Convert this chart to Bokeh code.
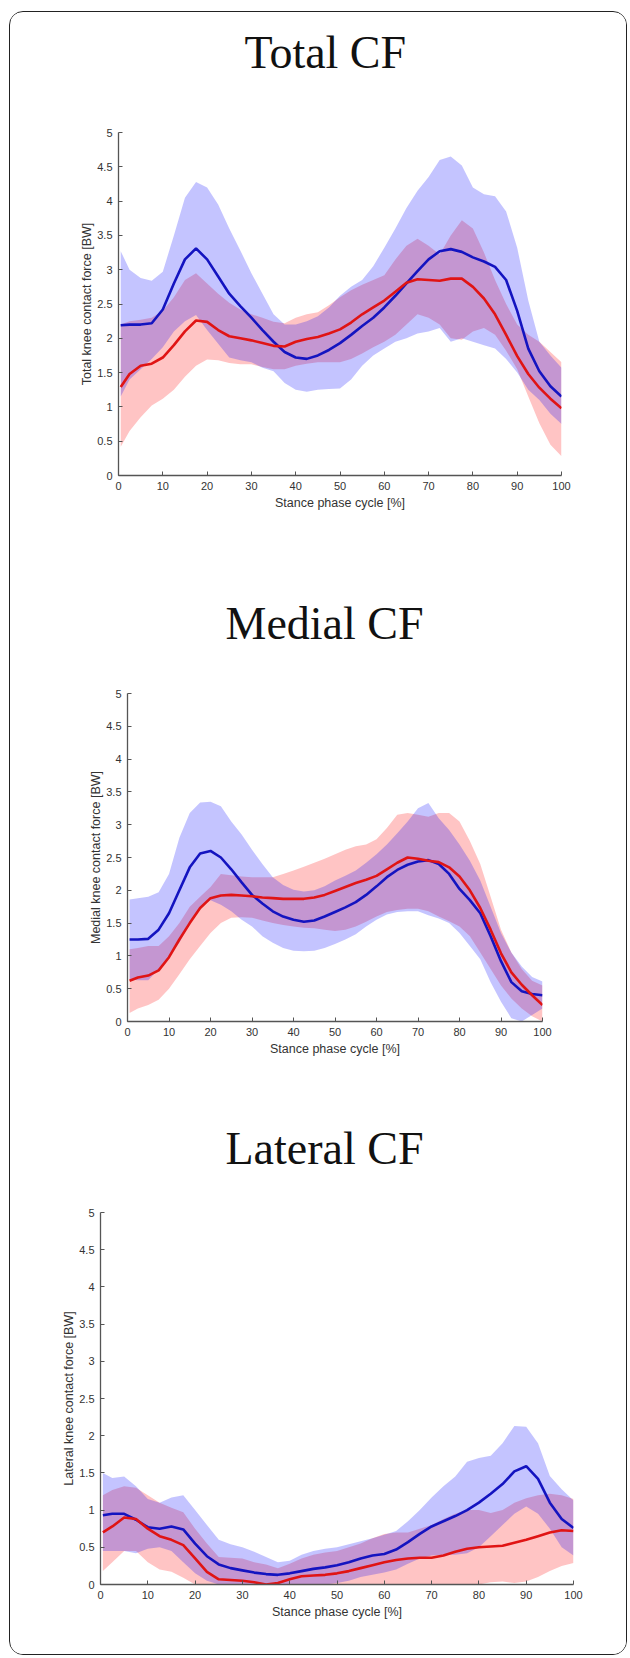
from bokeh.plotting import figure
from bokeh.layouts import column
from bokeh.models import Range1d, FixedTicker, CustomJSTickFormatter, Title
from bokeh.embed import file_html
from bokeh.resources import INLINE

# ---------------- data ----------------
x_pct = [0.5, 2.5, 5, 7.5, 10, 12.5, 15, 17.5, 20, 22.5, 25, 27.5, 30, 32.5, 35,
         37.5, 40, 42.5, 45, 47.5, 50, 52.5, 55, 57.5, 60, 62.5, 65, 67.5, 70,
         72.5, 75, 77.5, 80, 82.5, 85, 87.5, 90, 92.5, 95, 97.5, 100]

x_ticks = [0, 10, 20, 30, 40, 50, 60, 70, 80, 90, 100]
y_ticks = [0, 0.5, 1, 1.5, 2, 2.5, 3, 3.5, 4, 4.5, 5]

titles = ["Total CF", "Medial CF", "Lateral CF"]
y_labels = ["Total knee contact force [BW]",
            "Medial knee contact force [BW]",
            "Lateral knee contact force [BW]"]
x_label = "Stance phase cycle [%]"

# Total CF
total_blue_mean = [2.19, 2.2, 2.2, 2.22, 2.42, 2.8, 3.15, 3.31, 3.15, 2.9, 2.65, 2.47, 2.3, 2.12, 1.95,
                   1.8, 1.72, 1.7, 1.75, 1.83, 1.93, 2.05, 2.18, 2.3, 2.45, 2.62, 2.8, 2.98, 3.15,
                   3.27, 3.3, 3.26, 3.18, 3.12, 3.04, 2.85, 2.4, 1.85, 1.52, 1.3, 1.15]
total_blue_up = [3.27, 3.0, 2.88, 2.84, 2.97, 3.5, 4.05, 4.28, 4.2, 3.95, 3.6, 3.28, 2.95, 2.65, 2.35,
                 2.2, 2.2, 2.25, 2.32, 2.45, 2.62, 2.75, 2.85, 3.05, 3.32, 3.6, 3.9, 4.15, 4.35,
                 4.6, 4.65, 4.52, 4.2, 4.1, 4.07, 3.85, 3.32, 2.55, 1.95, 1.75, 1.57]
total_blue_lo = [1.15, 1.4, 1.55, 1.7, 1.87, 2.1, 2.25, 2.34, 2.12, 1.92, 1.72, 1.68, 1.65, 1.57, 1.52,
                 1.35, 1.25, 1.22, 1.25, 1.26, 1.27, 1.4, 1.6, 1.75, 1.85, 1.95, 2.0, 2.07, 2.1,
                 2.15, 1.95, 2.0, 1.95, 1.9, 1.85, 1.7, 1.5, 1.25, 1.1, 0.9, 0.75]
total_red_mean = [1.29, 1.48, 1.6, 1.63, 1.72, 1.9, 2.1, 2.26, 2.24, 2.12, 2.03, 2.0, 1.97, 1.93, 1.89,
                  1.88, 1.95, 1.99, 2.02, 2.07, 2.13, 2.23, 2.35, 2.45, 2.55, 2.68, 2.81, 2.86, 2.85,
                  2.84, 2.87, 2.87, 2.75, 2.58, 2.35, 2.05, 1.74, 1.48, 1.28, 1.12, 0.98]
total_red_up = [2.2, 2.25, 2.27, 2.3, 2.4, 2.6, 2.85, 2.95, 2.8, 2.65, 2.52, 2.42, 2.35, 2.3, 2.24,
                2.22, 2.3, 2.35, 2.38, 2.48, 2.6, 2.7, 2.78, 2.85, 2.92, 3.15, 3.35, 3.45, 3.35,
                3.22, 3.5, 3.72, 3.6, 3.25, 2.85, 2.5, 2.2, 2.05, 1.95, 1.8, 1.65]
total_red_lo = [0.42, 0.65, 0.85, 1.02, 1.12, 1.25, 1.44, 1.6, 1.69, 1.68, 1.64, 1.62, 1.62, 1.58, 1.55,
                1.55, 1.6, 1.63, 1.65, 1.65, 1.65, 1.7, 1.78, 1.87, 1.95, 2.05, 2.2, 2.35, 2.3,
                2.2, 2.0, 1.98, 2.1, 2.15, 2.05, 1.82, 1.55, 1.15, 0.76, 0.45, 0.28]

# Medial CF
medial_blue_mean = [1.25, 1.25, 1.26, 1.4, 1.65, 2.0, 2.35, 2.56, 2.6, 2.5, 2.32, 2.12, 1.93, 1.8, 1.68,
                    1.6, 1.55, 1.52, 1.54, 1.6, 1.67, 1.74, 1.82, 1.93, 2.06, 2.2, 2.31, 2.39, 2.44,
                    2.46, 2.4, 2.25, 2.02, 1.85, 1.65, 1.3, 0.92, 0.6, 0.46, 0.42, 0.4]
medial_blue_up = [1.86, 1.88, 1.9, 1.97, 2.25, 2.8, 3.18, 3.34, 3.35, 3.28, 3.05, 2.85, 2.62, 2.4, 2.2,
                  2.08, 2.01, 1.98, 2.0, 2.06, 2.15, 2.22, 2.3, 2.42, 2.55, 2.7, 2.87, 3.05, 3.25,
                  3.33, 3.1, 2.92, 2.7, 2.45, 2.15, 1.75, 1.35, 1.05, 0.84, 0.68, 0.61]
medial_blue_lo = [0.64, 0.63, 0.63, 0.8, 1.0, 1.2, 1.5, 1.75, 1.85, 1.78, 1.68, 1.55, 1.45, 1.3, 1.2,
                  1.12, 1.08, 1.07, 1.08, 1.12, 1.18, 1.25, 1.33, 1.45, 1.55, 1.63, 1.67, 1.68, 1.68,
                  1.62, 1.57, 1.5, 1.35, 1.15, 0.95, 0.6, 0.3, 0.05, 0.0, 0.1, 0.2]
medial_red_mean = [0.62, 0.67, 0.7, 0.78, 0.98, 1.25, 1.5, 1.73, 1.88, 1.92, 1.93, 1.92, 1.91, 1.89, 1.88,
                   1.87, 1.87, 1.87, 1.89, 1.93, 1.99, 2.05, 2.11, 2.16, 2.22, 2.32, 2.42, 2.5, 2.48,
                   2.45, 2.43, 2.35, 2.21, 2.0, 1.73, 1.4, 1.04, 0.75, 0.56, 0.4, 0.25]
medial_red_up = [1.1, 1.12, 1.15, 1.15, 1.3, 1.5, 1.75, 1.9, 2.05, 2.25, 2.23, 2.21, 2.2, 2.2, 2.2,
                 2.25, 2.3, 2.36, 2.42, 2.48, 2.55, 2.62, 2.67, 2.7, 2.78, 2.95, 3.15, 3.18, 3.15,
                 3.12, 3.18, 3.18, 3.05, 2.75, 2.4, 1.9, 1.4, 1.05, 0.8, 0.62, 0.55]
medial_red_lo = [0.13, 0.2, 0.25, 0.33, 0.5, 0.72, 0.95, 1.15, 1.35, 1.5, 1.58, 1.59, 1.58, 1.54, 1.5,
                 1.47, 1.45, 1.43, 1.42, 1.4, 1.38, 1.4, 1.45, 1.52, 1.6, 1.67, 1.7, 1.72, 1.72,
                 1.68, 1.6, 1.53, 1.45, 1.3, 1.05, 0.8, 0.55, 0.35, 0.2, 0.08, 0.0]

# Lateral CF
lateral_blue_mean = [0.93, 0.95, 0.95, 0.87, 0.77, 0.75, 0.78, 0.74, 0.55, 0.38, 0.27, 0.22, 0.19, 0.16, 0.14,
                     0.13, 0.15, 0.18, 0.21, 0.23, 0.26, 0.3, 0.35, 0.39, 0.41, 0.47, 0.57, 0.68, 0.78,
                     0.85, 0.92, 1.0, 1.1, 1.22, 1.35, 1.52, 1.59, 1.42, 1.1, 0.88, 0.76]
lateral_blue_up = [1.5, 1.43, 1.45, 1.32, 1.15, 1.1, 1.17, 1.2, 1.0, 0.8, 0.6, 0.54, 0.5, 0.44, 0.37,
                   0.3, 0.32, 0.4, 0.45, 0.48, 0.5, 0.54, 0.58, 0.62, 0.67, 0.72, 0.85, 1.0, 1.17,
                   1.32, 1.45, 1.65, 1.7, 1.73, 1.9, 2.13, 2.12, 1.9, 1.46, 1.28, 1.13]
lateral_blue_lo = [0.45, 0.45, 0.45, 0.42, 0.48, 0.5, 0.45, 0.3, 0.15, 0.05, 0.0, 0.0, 0.0, 0.0, 0.0,
                   0.0, 0.0, 0.0, 0.0, 0.0, 0.02, 0.05, 0.1, 0.13, 0.16, 0.2, 0.28, 0.35, 0.39,
                   0.4, 0.4, 0.42, 0.5, 0.65, 0.8, 0.95, 1.05, 0.95, 0.75, 0.5, 0.39]
lateral_red_mean = [0.7, 0.78, 0.9, 0.88, 0.75, 0.65, 0.6, 0.53, 0.35, 0.17, 0.07, 0.06, 0.05, 0.03, 0.0,
                    0.02, 0.07, 0.11, 0.12, 0.13, 0.15, 0.18, 0.22, 0.26, 0.3, 0.33, 0.35, 0.36, 0.36,
                    0.39, 0.44, 0.48, 0.5, 0.51, 0.52, 0.56, 0.6, 0.65, 0.7, 0.73, 0.72]
lateral_red_up = [1.2, 1.27, 1.32, 1.3, 1.2, 1.1, 1.03, 0.97, 0.75, 0.55, 0.37, 0.36, 0.35, 0.3, 0.27,
                  0.22, 0.28, 0.35, 0.4, 0.43, 0.45, 0.5, 0.55, 0.62, 0.68, 0.7, 0.7, 0.75, 0.8,
                  0.88, 0.95, 1.0, 1.0, 0.96, 1.0, 1.1, 1.16, 1.2, 1.22, 1.2, 1.15]
lateral_red_lo = [0.18, 0.3, 0.45, 0.45, 0.3, 0.2, 0.17, 0.09, 0.0, 0.0, 0.0, 0.0, 0.0, 0.0, 0.0,
                  0.0, 0.0, 0.0, 0.0, 0.0, 0.0, 0.0, 0.0, 0.0, 0.0, 0.0, 0.0, 0.0, 0.0,
                  0.0, 0.0, 0.0, 0.0, 0.03, 0.04, 0.02, 0.04, 0.1, 0.18, 0.25, 0.29]

# ---------------- styling ----------------
BLUE_LINE = "#1414c0"
RED_LINE = "#e01414"
BLUE_FILL = "#0000ff"
RED_FILL = "#ff0000"
BAND_ALPHA = 0.23
AXIS_COL = "#555555"
TEXT_COL = "#333333"
FIG_W = 616


def band(p, up, lo, color):
    xs = list(x_pct) + list(reversed(x_pct))
    ys = list(up) + list(reversed(lo))
    p.patch(xs, ys, fill_color=color, fill_alpha=BAND_ALPHA, line_color=None)


def make_panel(title, ylab, bm, bu, bl, rm, ru, rl, height, left, frame_w, top, frame_h,
               title_offset, gap):
    p = figure(width=FIG_W, height=height, x_range=Range1d(0, 100), y_range=Range1d(0, 5),
               output_backend="svg", toolbar_location=None,
               min_border_left=left, min_border_right=FIG_W - left - frame_w,
               min_border_top=top, min_border_bottom=height - top - frame_h)
    try:
        p.frame_align = False
    except Exception:
        pass
    p.grid.visible = False
    p.outline_line_color = None
    p.background_fill_color = "white"
    p.border_fill_color = "white"

    band(p, ru, rl, RED_FILL)
    band(p, bu, bl, BLUE_FILL)
    p.line(x_pct, bm, line_color=BLUE_LINE, line_width=2.6)
    p.line(x_pct, rm, line_color=RED_LINE, line_width=2.6)

    # spacing between heading and plot area, then the heading itself
    p.add_layout(Title(text=" ", text_font_size="2px", standoff=gap), "above")
    p.add_layout(Title(text=title, text_font="Liberation Serif", text_font_size="46px",
                       text_font_style="normal", text_color="#111111",
                       align="left", offset=title_offset, standoff=0), "above")

    p.xaxis.ticker = FixedTicker(ticks=x_ticks)
    p.yaxis.ticker = FixedTicker(ticks=y_ticks)
    p.yaxis.formatter = CustomJSTickFormatter(code="return tick.toString()")
    for ax in (p.xaxis[0], p.yaxis[0]):
        ax.axis_line_color = AXIS_COL
        ax.axis_line_width = 1.3
        ax.major_tick_line_color = AXIS_COL
        ax.major_tick_in = 4
        ax.major_tick_out = 0
        ax.minor_tick_in = 0
        ax.minor_tick_out = 0
        ax.major_label_text_font = "Liberation Sans"
        ax.major_label_text_font_size = "11px"
        ax.major_label_text_color = TEXT_COL
        ax.axis_label_text_font = "Liberation Sans"
        ax.axis_label_text_font_size = "12.5px"
        ax.axis_label_text_font_style = "normal"
        ax.axis_label_text_color = TEXT_COL
    p.xaxis.axis_label = x_label
    p.yaxis.axis_label = ylab
    p.xaxis.major_label_standoff = 6
    p.yaxis.major_label_standoff = 6
    p.xaxis.axis_label_standoff = 3
    p.yaxis.axis_label_standoff = 0
    return p


p1 = make_panel(titles[0], y_labels[0], total_blue_mean, total_blue_up, total_blue_lo,
                total_red_mean, total_red_up, total_red_lo,
                height=528, left=108, frame_w=443, top=120, frame_h=343,
                title_offset=126, gap=51)
p2 = make_panel(titles[1], y_labels[1], medial_blue_mean, medial_blue_up, medial_blue_lo,
                medial_red_mean, medial_red_up, medial_red_lo,
                height=535, left=117, frame_w=415, top=153, frame_h=328,
                title_offset=98, gap=41)
p3 = make_panel(titles[2], y_labels[2], lateral_blue_mean, lateral_blue_up, lateral_blue_lo,
                lateral_red_mean, lateral_red_up, lateral_red_lo,
                height=579, left=90, frame_w=473, top=137, frame_h=372,
                title_offset=125, gap=35)

layout = column(p1, p2, p3, spacing=0, margin=(11, 0, 0, 9),
                styles={"border": "1.5px solid #222222", "border-radius": "14px",
                        "overflow": "hidden", "background": "white"})

open("out.html", "w").write(file_html(layout, INLINE))
